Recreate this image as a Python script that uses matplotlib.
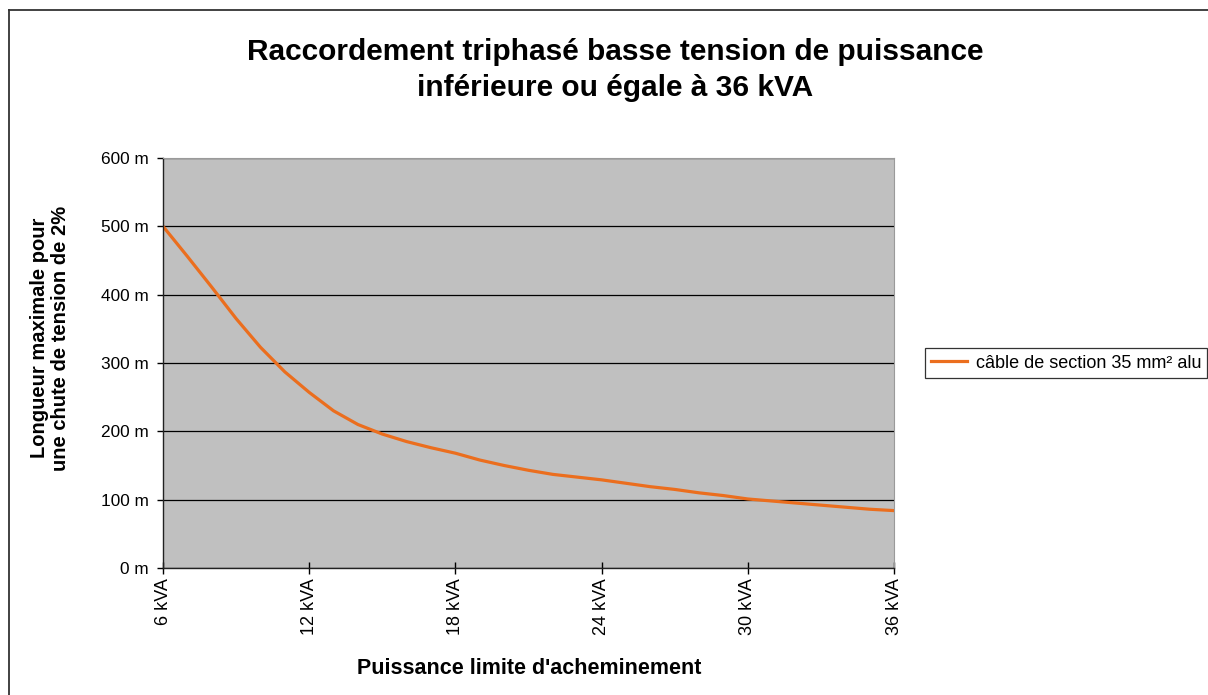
import matplotlib
matplotlib.use("Agg")
import matplotlib.pyplot as plt
from matplotlib.lines import Line2D
from matplotlib import font_manager

names = {f.name for f in font_manager.fontManager.ttflist}
base = "Liberation Sans" if "Liberation Sans" in names else "DejaVu Sans"
plt.rcParams['font.family'] = [base, 'DejaVu Sans']

# Data
power_kva = [6, 7, 8, 9, 10, 11, 12, 13, 14, 15, 16, 17, 18, 19, 20, 21,
             22, 23, 24, 25, 26, 27, 28, 29, 30, 31, 32, 33, 34, 35, 36]
length_m = [500, 456, 411, 365, 323, 287, 257, 230, 210, 196, 185, 176, 168,
            158, 150, 143, 137, 133, 129, 124, 119, 115, 110, 106, 101,
            98, 95, 92, 89, 86, 84]
xtick_vals = [6, 12, 18, 24, 30, 36]
xtick_labels = ["6 kVA", "12 kVA", "18 kVA", "24 kVA", "30 kVA", "36 kVA"]
ytick_vals = [0, 100, 200, 300, 400, 500, 600]
ytick_labels = ["0 m", "100 m", "200 m", "300 m", "400 m", "500 m", "600 m"]
series_name = "câble de section 35 mm² alu"
title = "Raccordement triphasé basse tension de puissance\ninférieure ou égale à 36 kVA"
xlabel = "Puissance limite d'acheminement"
ylabel = "Longueur maximale pour\nune chute de tension de 2%"

W, H = 1208, 695
fig = plt.figure(figsize=(W / 100, H / 100), dpi=100)
fig.patch.set_facecolor("white")

ax = fig.add_axes([163 / W, 1 - 568 / H, (894 - 163) / W, (568 - 158) / H])
ax.set_facecolor("#C0C0C0")

ax.set_axisbelow(True)
ax.grid(axis="y", color="black", linewidth=0.9)
ln, = ax.plot(power_kva, length_m, color="#EB6E1E", linewidth=2.3,
              solid_joinstyle="round", label=series_name)

ax.set_xlim(6, 36)
ax.set_ylim(0, 600)
ax.set_xticks(xtick_vals)
ax.set_xticklabels(xtick_labels, rotation=90, fontsize=13)
ax.set_yticks(ytick_vals)
ax.set_yticklabels(ytick_labels, fontsize=12.4)
ax.tick_params(axis="x", direction="inout", length=9, width=1, pad=3)
ax.tick_params(axis="y", direction="out", length=4, width=1, pad=6)

for s in ("left", "bottom"):
    ax.spines[s].set_color("#222222")
    ax.spines[s].set_linewidth(1.0)
for s in ("top", "right"):
    ax.spines[s].set_color("#9a9a9a")
    ax.spines[s].set_linewidth(0.8)

fig.text(615 / W, 1 - 70 / H, title, ha="center", va="center",
         fontsize=21.5, fontweight="bold", linespacing=1.38)

fig.text(529 / W, 1 - 668 / H, xlabel, ha="center", va="center",
         fontsize=15.5, fontweight="bold")
fig.text(50 / W, 1 - 338 / H, ylabel, ha="center", va="center",
         rotation=90, fontsize=14.5, fontweight="bold", linespacing=1.08)

leg = ax.legend(handles=[ln], loc="center left",
                bbox_to_anchor=(925 / W, 1 - 363 / H),
                bbox_transform=fig.transFigure, frameon=True, fancybox=False,
                edgecolor="black", fontsize=13, handlelength=2.0,
                handletextpad=0.45, borderpad=0.35, borderaxespad=0)
leg.get_frame().set_linewidth(0.9)

# figure border lines (top and left)
fig.add_artist(Line2D([9 / W, 1], [1 - 10 / H, 1 - 10 / H],
                      transform=fig.transFigure, color="#333333", linewidth=1.3))
fig.add_artist(Line2D([9 / W, 9 / W], [0, 1 - 10 / H],
                      transform=fig.transFigure, color="#333333", linewidth=1.3))

fig.savefig("out.png", dpi=100, facecolor="white")
